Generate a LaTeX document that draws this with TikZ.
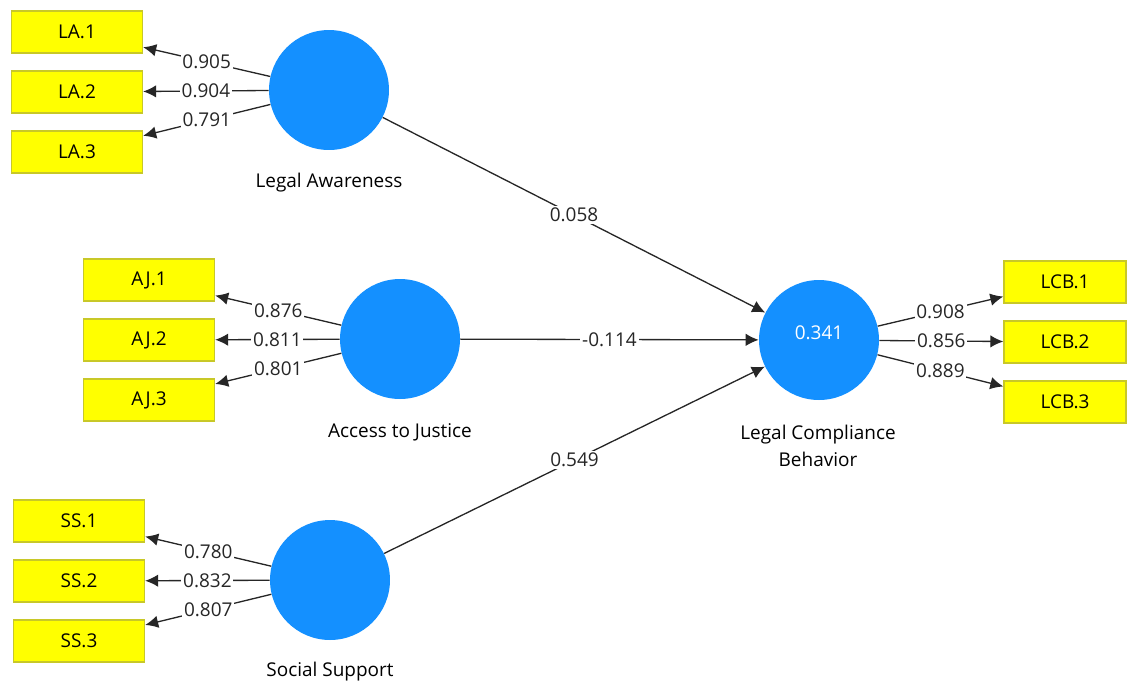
\documentclass[tikz,border=0pt]{standalone}
\usepackage{fontspec}
\setsansfont{Open Sans}
\usetikzlibrary{arrows.meta}
\definecolor{lvblue}{RGB}{20,144,255}
\definecolor{mvyellow}{RGB}{255,255,0}
\definecolor{mvedge}{RGB}{200,200,40}

\begin{document}
\begin{tikzpicture}[x=0.02cm,y=-0.02cm,font=\sffamily\fontsize{10.8}{15}\selectfont,>={Latex[length=2.6mm,width=2.5mm]},
  lv/.style={circle,fill=lvblue,minimum size=2.4cm,inner sep=0pt},
  mv/.style={draw=mvedge,line width=0.8pt,fill=mvyellow,minimum width=2.62cm,minimum height=0.84cm,inner sep=0pt},
  mvr/.style={mv,minimum width=2.44cm},
  wt/.style={fill=white,inner sep=1pt},
  lnk/.style={->,line width=0.75pt,black!85}]
\useasboundingbox (0,0) rectangle (1129,681);
% latent variables
\node[lv] (LA) at (329,90) {};
\node[lv] (AJ) at (400,339) {};
\node[lv] (SS) at (330,580) {};
\node[lv,text=white,text depth=0.3cm] (LCB) at (819,340) {0.341};
\node (LAt) at (329,183) {Legal Awareness};
\node (AJt) at (400,432) {Access to Justice};
\node (SSt) at (330,672) {Social Support};
\node[align=center] (LCBt) at (818,446) {Legal Compliance\\Behavior};
% indicators
\node[mv] (LA1) at (77,32) {LA.1};
\node[mv] (LA2) at (77,92) {LA.2};
\node[mv] (LA3) at (77,152) {LA.3};
\node[mv] (AJ1) at (149,280) {AJ.1};
\node[mv] (AJ2) at (149,340) {AJ.2};
\node[mv] (AJ3) at (149,400) {AJ.3};
\node[mv] (SS1) at (79,521) {SS.1};
\node[mv] (SS2) at (79,581) {SS.2};
\node[mv] (SS3) at (79,641) {SS.3};
\node[mvr] (LCB1) at (1065,282) {LCB.1};
\node[mvr] (LCB2) at (1065,342) {LCB.2};
\node[mvr] (LCB3) at (1065,402) {LCB.3};
% outer loadings
\draw[lnk] (LA) -- node[wt] {0.905} (LA1);
\draw[lnk] (LA) -- node[wt] {0.904} (LA2);
\draw[lnk] (LA) -- node[wt] {0.791} (LA3);
\draw[lnk] (AJ) -- node[wt] {0.876} (AJ1);
\draw[lnk] (AJ) -- node[wt] {0.811} (AJ2);
\draw[lnk] (AJ) -- node[wt] {0.801} (AJ3);
\draw[lnk] (SS) -- node[wt] {0.780} (SS1);
\draw[lnk] (SS) -- node[wt] {0.832} (SS2);
\draw[lnk] (SS) -- node[wt] {0.807} (SS3);
\draw[lnk] (LCB) -- node[wt] {0.908} (LCB1);
\draw[lnk] (LCB) -- node[wt] {0.856} (LCB2);
\draw[lnk] (LCB) -- node[wt] {0.889} (LCB3);
% path coefficients
\draw[lnk] (LA) -- node[wt] {0.058} (LCB);
\draw[lnk] (AJ) -- node[wt] {-0.114} (LCB);
\draw[lnk] (SS) -- node[wt] {0.549} (LCB);
\end{tikzpicture}
\end{document}
